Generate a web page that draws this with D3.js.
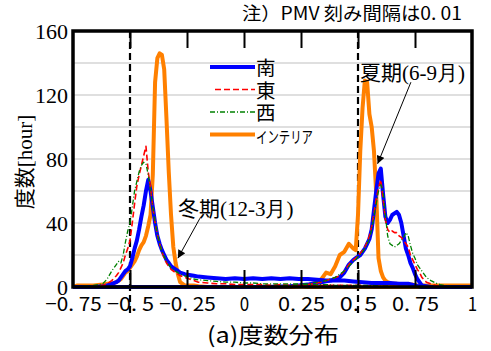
<!DOCTYPE html>
<html>
<head>
<meta charset="utf-8">
<script src="https://cdn.jsdelivr.net/npm/d3@7"></script>
<style>
  body { margin: 0; background: #fff; }
  svg { display: block; }
</style>
</head>
<body>
<div id="chart"></div>
<script>
// ---- data (PMV bin -> hours) ----
const seriesNames = ["南", "東", "西", "インテリア"];
const seriesColors = ["#0000ff", "#ff0000", "#008000", "#ff8000"];

const xTicks = [-0.75, -0.5, -0.25, 0, 0.25, 0.5, 0.75, 1];
const xTickLabels = ["−0. 75", "−0. 5", "−0. 25", "0", "0. 25", "0. 5", "0. 75", "1"];
const yTicks = [0, 40, 80, 120, 160];
const yGrid = [20, 40, 60, 80, 100, 120, 140];

// winter (12-3月)
const winterPMV = [-0.75, -0.73, -0.70, -0.66, -0.62, -0.60, -0.58, -0.56, -0.55, -0.54,
  -0.53, -0.52, -0.51, -0.50, -0.49, -0.48, -0.47, -0.46, -0.45, -0.44,
  -0.43, -0.42, -0.41, -0.40, -0.39, -0.38, -0.37, -0.36, -0.35, -0.34,
  -0.33, -0.32, -0.31, -0.30, -0.29, -0.28, -0.26, -0.24, -0.22, -0.20,
  -0.16, -0.12, -0.08, -0.04, 0.00, 0.04, 0.08, 0.12, 0.16, 0.20,
  0.24, 0.28, 0.32, 0.36, 0.40, 0.44, 0.48, 0.52, 0.56, 0.60,
  0.64, 0.68, 0.72, 0.75, 0.78, 0.85, 1.00];
const winterSouth = [0, 0, 0, 0, 0.5, 1, 2, 3, 4, 6,
  8, 10, 11, 13, 18, 24, 29, 36, 44, 51,
  60, 67, 60, 50, 40, 32, 27, 23, 20, 17,
  15, 13, 12, 11, 10, 9, 8, 7.5, 7, 6.5,
  6, 5.5, 5, 5.5, 5, 5.5, 5, 5.5, 5, 5.5,
  5, 5, 4.5, 4, 4, 4, 3.5, 3, 2.5, 2.5,
  2.5, 2, 2, 1, 0, 0, 0];
const winterEast = [0, 0, 0, 0.5, 1, 2, 4, 7, 9, 12,
  15, 20, 24, 29, 40, 52, 63, 70, 76, 82,
  88, 72, 62, 50, 40, 33, 27, 22, 18, 15,
  13, 11, 10, 9, 8, 7, 6, 5, 4, 3,
  2.5, 2, 2, 1.5, 1.5, 1.5, 1.5, 1, 1.5, 1,
  1, 1, 1, 1, 1, 1, 1, 1, 0.5, 0.5,
  0.5, 0, 0, 0, 0, 0, 0];
const winterWest = [0, 0, 0.5, 1, 2, 5, 10, 14, 16, 15,
  20, 28, 35, 40, 50, 60, 66, 72, 76, 78,
  77, 70, 60, 50, 41, 33, 27, 22, 19, 16,
  14, 12, 11, 10, 9, 8, 7, 6, 5, 4.5,
  4, 3.5, 3, 3, 2.5, 2.5, 2, 2, 2, 2,
  2, 1.5, 1.5, 1.5, 1, 1, 1, 1, 1, 0.5,
  0.5, 0, 0, 0, 0, 0, 0];
const winterInterior = [0, 1, 1, 1, 1.5, 2, 2, 3, 4, 5,
  7, 9, 10, 12, 14, 16, 19, 23, 26, 28,
  32, 38, 45, 70, 128, 143, 146, 145, 136, 105,
  72, 45, 25, 15, 8, 3, 1, 1, 1, 0.5,
  0, 0, 0, 0, 0, 0, 0, 0, 0, 0,
  0.5, 0, 0, 0, 0, 0, 0, 0, 0, 0,
  0, 0, 0, 0, 0, 0, 0];

// summer (6-9月)
const summerPMV = [-0.75, 0.00, 0.10, 0.20, 0.24, 0.28, 0.30, 0.32, 0.34, 0.36,
  0.38, 0.40, 0.42, 0.44, 0.46, 0.48, 0.49, 0.50, 0.51, 0.52,
  0.53, 0.54, 0.55, 0.56, 0.57, 0.58, 0.59, 0.60, 0.61, 0.62,
  0.63, 0.64, 0.65, 0.66, 0.67, 0.68, 0.69, 0.70, 0.71, 0.72,
  0.73, 0.74, 0.75, 0.76, 0.77, 0.78, 0.80, 0.82, 0.84, 0.86,
  0.88, 0.90, 0.94, 1.00];
const summerSouth = [0, 0, 0, 0.5, 1, 1.5, 2, 2.5, 3, 3.5,
  4, 5, 6, 9, 14, 17, 18, 19, 20, 22,
  24, 27, 30, 36, 48, 60, 71, 74, 58, 44,
  40, 42, 45, 46, 47, 45, 40, 32, 24, 20,
  15, 12, 8, 5, 3, 1, 0.5, 0, 0, 0,
  0, 0, 0, 0];
const summerEast = [0, 0, 0, 0.5, 1, 1.5, 2, 2.5, 3, 4,
  5, 6, 7, 10, 14, 17, 18, 20, 21, 23,
  25, 28, 32, 38, 46, 55, 62, 67, 55, 42,
  36, 34, 35, 34, 34, 32, 31, 29, 27, 25,
  20, 17, 14, 11, 9, 6, 3, 2, 1, 0.5,
  0, 0, 0, 0];
const summerWest = [0, 0, 0, 1, 1.5, 2, 2.5, 3, 3.5, 4,
  5, 6, 8, 10, 13, 16, 17, 19, 20, 22,
  24, 27, 30, 36, 44, 52, 60, 64, 60, 45,
  32, 27, 26, 25, 26, 27, 29, 31, 34, 32,
  26, 21, 18, 14, 12, 10, 6, 4, 2.5, 1.5,
  1, 0.5, 0, 0];
const summerInterior = [0, 0, 0, 0, 0.5, 1, 2, 3, 5, 9,
  8, 13, 20, 22, 27, 24, 23, 45, 85, 112,
  129, 128, 108, 100, 85, 58, 18, 10, 6, 4,
  3, 2.5, 2, 2, 2, 1.5, 1.5, 1.5, 1.5, 1.5,
  1.5, 1.5, 1, 1, 1, 1, 1, 1, 1, 1,
  1, 1, 1, 1];

// ---- layout ----
const width = 491, height = 351;
const margin = { top: 31, right: 19, bottom: 64, left: 73 };

const svg = d3.select("#chart").append("svg")
  .attr("width", width)
  .attr("height", height);

const x = d3.scaleLinear().domain([-0.75, 1]).range([margin.left, width - margin.right]);
const y = d3.scaleLinear().domain([0, 160]).range([height - margin.bottom, margin.top]);

// gridlines
svg.append("g").selectAll("line")
  .data(yGrid).enter().append("line")
  .attr("x1", x(-0.75)).attr("x2", x(1))
  .attr("y1", d => y(d)).attr("y2", d => y(d))
  .attr("stroke", "#c0c0c0").attr("stroke-width", 1.2);

// dashed reference lines at PMV = +-0.5
svg.append("g").selectAll("line")
  .data([-0.5, 0.5]).enter().append("line")
  .attr("x1", d => x(d)).attr("x2", d => x(d))
  .attr("y1", y(160)).attr("y2", y(0) + 30)
  .attr("stroke", "#000").attr("stroke-width", 2.2)
  .attr("stroke-dasharray", "7,4");

// series lines
const line = d3.line().x(d => x(d[0])).y(d => y(d[1]));
const dashes = [null, "6,3", "5,2,1,2", null];
const widths = [4, 1.6, 1.3, 4];
const winterVals = [winterSouth, winterEast, winterWest, winterInterior];
const summerVals = [summerSouth, summerEast, summerWest, summerInterior];

const drawOrder = [3, 0, 1, 2];
const lines = svg.append("g").attr("fill", "none")
  .attr("stroke-linejoin", "round");
drawOrder.forEach(i => {
  [[winterPMV, winterVals[i]], [summerPMV, summerVals[i]]].forEach(([px, vals]) => {
    lines.append("path")
      .datum(px.map((p, k) => [p, vals[k]]))
      .attr("d", line)
      .attr("stroke", seriesColors[i])
      .attr("stroke-width", widths[i])
      .attr("stroke-dasharray", dashes[i]);
  });
});

// axes
const xAxis = svg.append("g")
  .attr("transform", `translate(0,${y(0)})`)
  .call(d3.axisBottom(x).tickValues(xTicks)
    .tickFormat((d, i) => xTickLabels[i])
    .tickSizeInner(-17).tickSizeOuter(0).tickPadding(11));
xAxis.select(".domain").remove();
xAxis.selectAll(".tick line").attr("stroke-width", 2)
  .filter(d => d === -0.75 || d === 1).remove();
xAxis.selectAll("text")
  .style("font-family", "'Noto Sans CJK JP', sans-serif")
  .style("font-size", "19px").attr("fill", "#000")
  .attr("textLength", (d, i) => xTickLabels[i].length * 9.4)
  .attr("lengthAdjust", "spacingAndGlyphs");

const xTop = svg.append("g")
  .attr("transform", `translate(0,${y(160)})`)
  .call(d3.axisTop(x).tickValues(xTicks.slice(1, -1))
    .tickFormat("").tickSizeInner(-17).tickSizeOuter(0));
xTop.select(".domain").remove();
xTop.selectAll(".tick line").attr("stroke-width", 2);

const yAxis = svg.append("g")
  .attr("transform", `translate(${x(-0.75)},0)`)
  .call(d3.axisLeft(y).tickValues(yTicks).tickSize(0).tickPadding(5));
yAxis.select(".domain").remove();
yAxis.selectAll("text")
  .style("font-family", "'Liberation Serif', 'Times New Roman', serif")
  .style("font-size", "22px").attr("fill", "#000");

// frame
svg.append("rect")
  .attr("x", x(-0.75)).attr("y", y(160))
  .attr("width", x(1) - x(-0.75)).attr("height", y(0) - y(160))
  .attr("fill", "none").attr("stroke", "#000").attr("stroke-width", 3.5);

// legend
const legend = svg.append("g");
seriesNames.forEach((name, i) => {
  const ly = 67 + i * 22.5;
  legend.append("line")
    .attr("x1", i === 1 ? 215 : 210).attr("x2", 255)
    .attr("y1", ly).attr("y2", ly)
    .attr("stroke", seriesColors[i])
    .attr("stroke-width", widths[i])
    .attr("stroke-dasharray", dashes[i]);
  const t = legend.append("text")
    .attr("x", 256).attr("y", ly + 8)
    .attr("font-family", "'Noto Sans CJK JP', sans-serif")
    .attr("fill", "#000")
    .text(name);
  if (i === 3) {
    t.attr("font-size", 16).attr("textLength", 57).attr("lengthAdjust", "spacingAndGlyphs");
  } else {
    t.attr("font-size", 19.5);
  }
});

// annotations
const ann = [
  { text: "夏期", sub: "(6-9月)", tx: 360, ty: 80, from: [0.732, 128], to: [0.586, 77] },
  { text: "冬期", sub: "(12-3月)", tx: 178, ty: 216, from: [-0.193, 43], to: [-0.29, 18] }
];
svg.append("defs").append("marker")
  .attr("id", "arrow").attr("viewBox", "0 0 10 10")
  .attr("refX", 10).attr("refY", 5)
  .attr("markerWidth", 10).attr("markerHeight", 8)
  .attr("markerUnits", "userSpaceOnUse")
  .attr("orient", "auto")
  .append("path").attr("d", "M0,0L10,5L0,10Z").attr("fill", "#000");

ann.forEach(a => {
  const t = svg.append("text")
    .attr("x", a.tx).attr("y", a.ty)
    .attr("font-family", "'Noto Sans CJK JP', sans-serif")
    .attr("font-size", 21).attr("fill", "#000");
  t.append("tspan").text(a.text);
  t.append("tspan").attr("font-family", "'Liberation Serif', serif").text(a.sub);
  svg.append("line")
    .attr("x1", x(a.from[0])).attr("y1", y(a.from[1]))
    .attr("x2", x(a.to[0])).attr("y2", y(a.to[1]))
    .attr("stroke", "#000").attr("stroke-width", 1)
    .attr("marker-end", "url(#arrow)");
});

// titles
svg.append("text")
  .attr("x", 462).attr("y", 20)
  .attr("text-anchor", "end")
  .attr("font-family", "'Noto Sans CJK JP', sans-serif")
  .attr("font-size", 18).attr("fill", "#000")
  .attr("textLength", 220).attr("lengthAdjust", "spacingAndGlyphs")
  .text("注）PMV 刻み間隔は0. 01");

const yTitle = svg.append("text")
  .attr("transform", "translate(32,162) rotate(-90)")
  .attr("text-anchor", "middle")
  .attr("font-family", "'Noto Sans CJK JP', sans-serif")
  .attr("font-size", 21).attr("fill", "#000");
yTitle.append("tspan").text("度数");
yTitle.append("tspan").attr("font-family", "'Liberation Serif', serif").text("[hour]");

svg.append("text")
  .attr("x", 273).attr("y", 343)
  .attr("text-anchor", "middle")
  .attr("font-family", "'Noto Sans CJK JP', sans-serif")
  .attr("font-size", 22).attr("fill", "#000")
  .attr("textLength", 132).attr("lengthAdjust", "spacingAndGlyphs")
  .text("(a)度数分布");
</script>
</body>
</html>
